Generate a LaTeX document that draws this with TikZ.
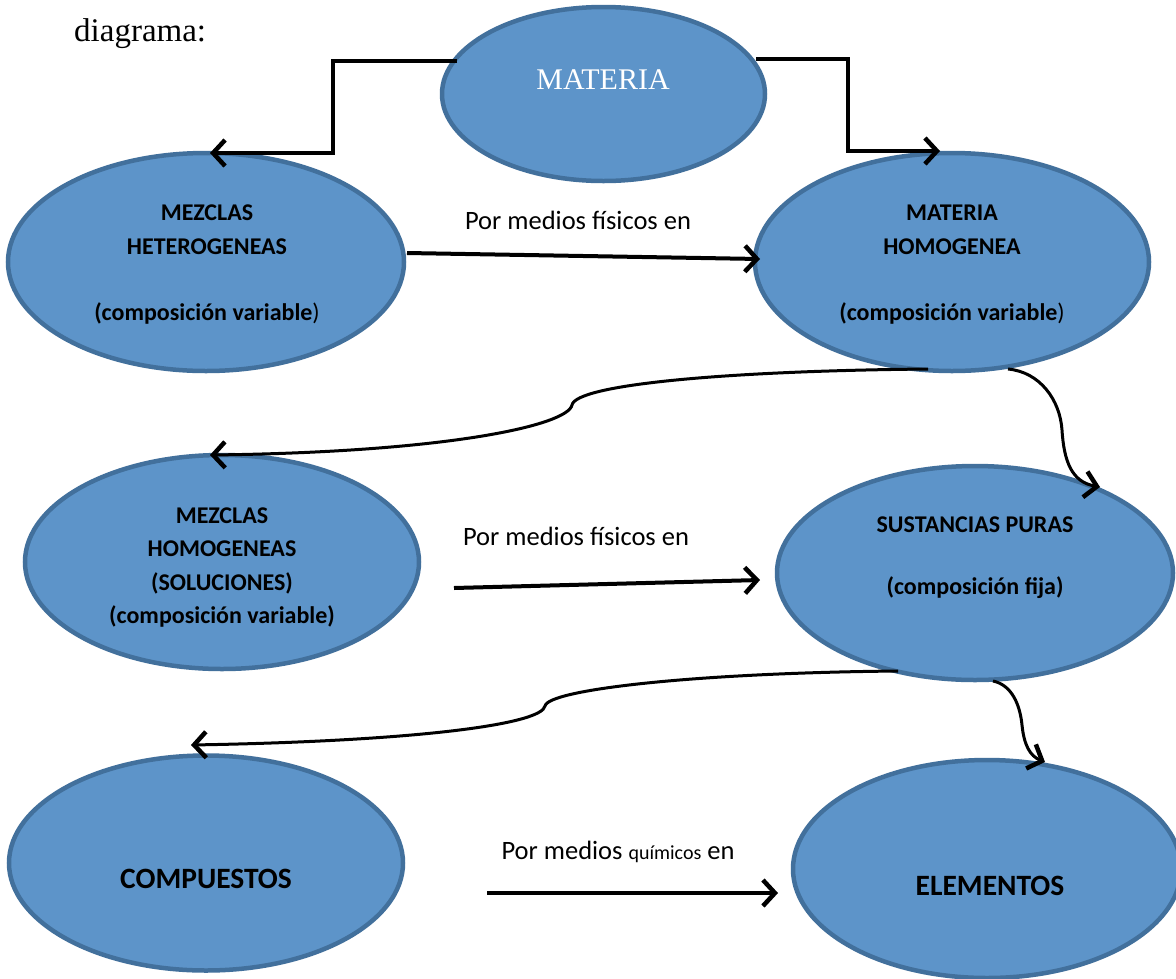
\documentclass[tikz,border=0pt]{standalone}
\usepackage{fontspec}
\setmainfont{Carlito}
\newfontfamily\timesf{Liberation Serif}
\usetikzlibrary{shapes.geometric,arrows.meta}
\definecolor{efill}{RGB}{93,148,201}
\definecolor{eline}{RGB}{66,112,156}
\tikzset{
  oval/.style={ellipse, draw=eline, fill=efill, line width=4.5pt, inner sep=0pt},
  lbl/.style={inner sep=0pt, font=\fontsize{24}{28}\selectfont\bfseries},
  big/.style={inner sep=0pt, font=\fontsize{29.5}{34}\selectfont\bfseries},
  note/.style={inner sep=0pt, font=\fontsize{26.5}{30}\selectfont},
  conn/.style={line width=4pt, -{Straight Barb[length=12pt, width=26pt, line width=4.5pt]}},
  elbow/.style={line width=4pt, line join=miter, -{Straight Barb[length=12pt, width=26pt, line width=4.5pt]}},
  curv/.style={line width=3pt, -{Straight Barb[length=12pt, width=26pt, line width=4.5pt]}}
}
\begin{document}
\begin{tikzpicture}[x=1pt,y=-1pt]
\useasboundingbox (0,0) rectangle (1176,978);
\fill[white] (0,0) rectangle (1176,978);

% ellipses
\node[oval, minimum width=323pt, minimum height=174pt] (mat) at (603.5,94) {};
\node[oval, minimum width=396pt, minimum height=218pt] (het) at (206,262) {};
\node[oval, minimum width=394pt, minimum height=218pt] (mhom) at (952,262) {};
\node[oval, minimum width=394pt, minimum height=214pt] (hom) at (222,562) {};
\node[oval, minimum width=396pt, minimum height=214pt] (sus) at (975,573) {};
\node[oval, minimum width=394pt, minimum height=215pt] (com) at (206,863) {};
\node[oval, minimum width=388pt, minimum height=218pt] (ele) at (987,869) {};

% texts
\node[inner sep=0pt, anchor=base west, font=\timesf\fontsize{33}{36}\selectfont] (diag) at (74,41) {diagrama:};
\node[inner sep=0pt, text=white, font=\timesf\fontsize{30}{34}\selectfont] (matt) at (603,80) {MATERIA};

\node[lbl] (het1) at (207,213) {MEZCLAS};
\node[lbl] (het2) at (207,247) {HETEROGENEAS};
\node[lbl] (het3) at (207,313) {(composición variable\mdseries)};

\node[lbl] (mh1) at (952,213) {MATERIA};
\node[lbl] (mh2) at (952,247) {HOMOGENEA};
\node[lbl] (mh3) at (952,313) {(composición variable\mdseries)};

\node[lbl] (ho1) at (222,516) {MEZCLAS};
\node[lbl] (ho2) at (222,549) {HOMOGENEAS};
\node[lbl] (ho3) at (222,583) {(SOLUCIONES)};
\node[lbl] (ho4) at (222,616) {(composición variable)};

\node[lbl] (su1) at (975,525) {SUSTANCIAS PURAS};
\node[lbl] (su2) at (975,588) {(composición fija)};

\node[big] (cot) at (206,879) {COMPUESTOS};
\node[big] (elt) at (990,886) {ELEMENTOS};

\node[note] (pm1) at (578,220) {Por medios físicos en};
\node[note] (pm2) at (576,536) {Por medios físicos en};
\node[note] (pm3) at (618,852) {Por medios {\fontsize{20}{24}\selectfont químicos} en};

% connector end points
\coordinate (a1) at (457,61);
\coordinate (a2) at (210,153);
\coordinate (b1) at (756,59);
\coordinate (b2) at (940,151);
\coordinate (c1) at (407,253);
\coordinate (c2) at (760,259);
\coordinate (d1) at (928,369);
\coordinate (d2) at (210,455);
\coordinate (e1) at (1008,369);
\coordinate (e2) at (1100,487);
\coordinate (f1) at (454,588);
\coordinate (f2) at (760,580);
\coordinate (g1) at (898,671);
\coordinate (g2) at (191,745);
\coordinate (h1) at (993,681);
\coordinate (h2) at (1045,762);
\coordinate (i1) at (487,893);
\coordinate (i2) at (778,893);

% connectors
\draw[elbow] (a1) -- (333,61) -- (333,153) -- (a2);
\draw[elbow] (b1) -- (848,59) -- (848,151) -- (b2);
\draw[conn] (c1) -- (c2);
\draw[conn] (f1) -- (f2);
\draw[conn] (i1) -- (i2);
\draw[curv] (d1) .. controls (720,371) and (576,385) .. (572,405)
  .. controls (568,425) and (450,452) .. (d2);
\draw[curv] (e1) .. controls (1040,372) and (1060,400) .. (1062,430)
  .. controls (1064,462) and (1072,482) .. (e2);
\draw[curv] (g1) .. controls (690,673) and (548,690) .. (545,706)
  .. controls (542,724) and (420,741) .. (g2);
\draw[curv] (h1) .. controls (1012,685) and (1020,705) .. (1022,725)
  .. controls (1024,745) and (1030,756) .. (h2);
\end{tikzpicture}
\end{document}
